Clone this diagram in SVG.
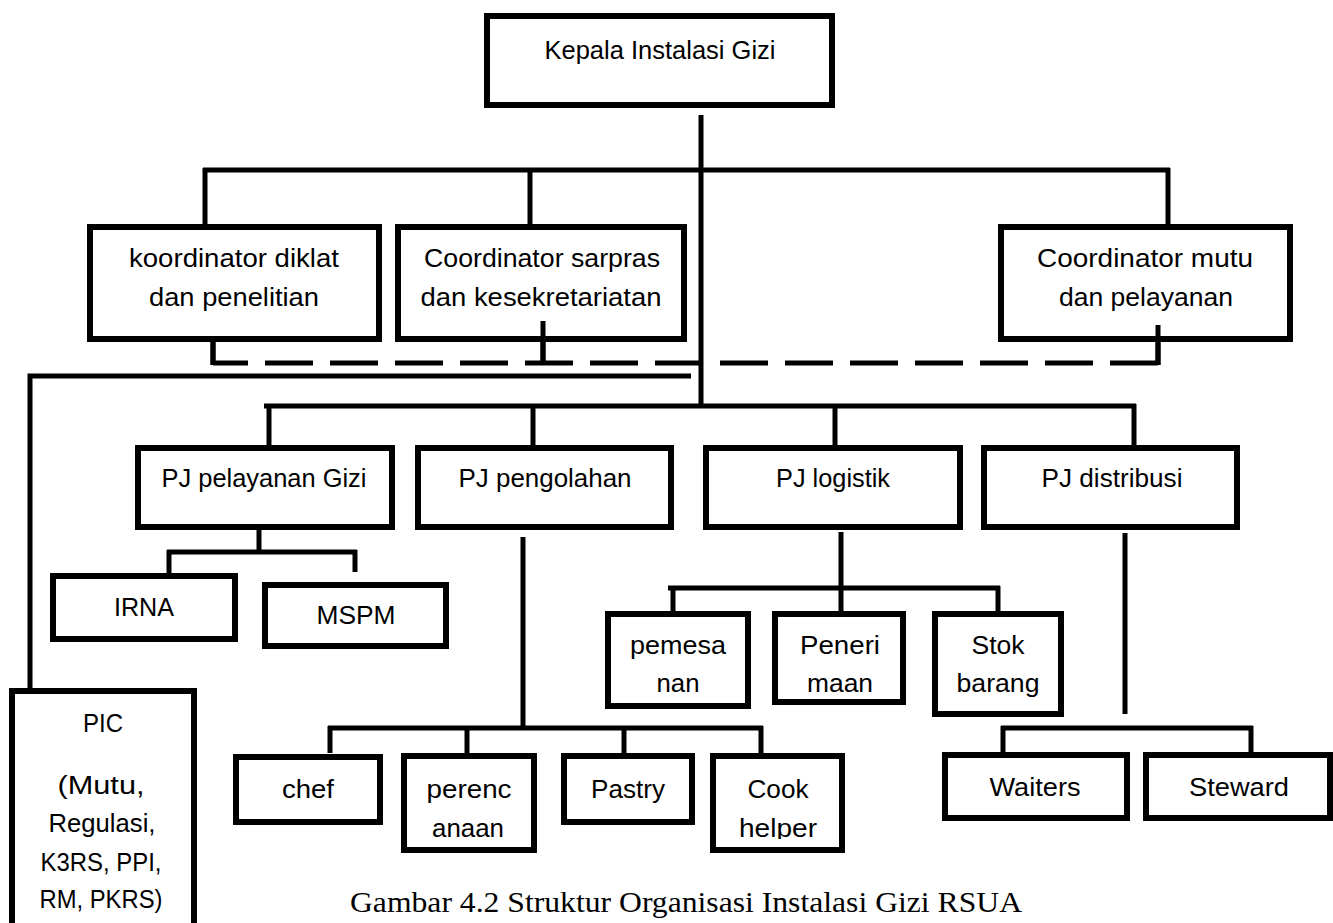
<svg xmlns="http://www.w3.org/2000/svg" width="1333" height="923" viewBox="0 0 1333 923">
  <style>
    .box { fill: #ffffff; stroke: #000000; stroke-width: 6; }
    .ln { fill: none; stroke: #000000; stroke-width: 5; stroke-linecap: butt; }
    .dash { fill: none; stroke: #000000; stroke-width: 5; stroke-dasharray: 48 17; stroke-dashoffset: 13; }
    .t { font-family: "Liberation Sans", Arial, sans-serif; font-size: 25px; fill: #000000; text-anchor: middle; }
    .cap { font-family: "Liberation Serif", "Times New Roman", serif; font-size: 30px; fill: #000000; text-anchor: middle; }
  </style>
  <defs>
    <clipPath id="clip-helper">
      <rect x="712" y="800" width="132" height="39"/>
    </clipPath>
  </defs>
  <rect x="0" y="0" width="1333" height="923" fill="#ffffff"/>

  <!-- connectors -->
  <g id="connectors">
    <!-- head to coordinators -->
    <line class="ln" x1="701" y1="115" x2="701" y2="408"/>
    <line class="ln" x1="203" y1="170" x2="1170" y2="170"/>
    <line class="ln" x1="205" y1="168" x2="205" y2="232"/>
    <line class="ln" x1="530" y1="170" x2="530" y2="242"/>
    <line class="ln" x1="1168" y1="168" x2="1168" y2="247"/>
    <!-- coordination between coordinators (dashed) -->
    <line class="ln" x1="213" y1="340" x2="213" y2="365"/>
    <line class="ln" x1="543" y1="321" x2="543" y2="365"/>
    <line class="ln" x1="1158" y1="325" x2="1158" y2="365"/>
    <line class="dash" x1="213" y1="363" x2="1160" y2="363"/>
    <!-- PIC line -->
    <polyline class="ln" points="691,376 30,376 30,690"/>
    <!-- head to PJ units -->
    <line class="ln" x1="264" y1="406" x2="1136" y2="406"/>
    <line class="ln" x1="269" y1="404" x2="269" y2="449"/>
    <line class="ln" x1="533" y1="406" x2="533" y2="449"/>
    <line class="ln" x1="835" y1="406" x2="835" y2="453"/>
    <line class="ln" x1="1134" y1="404" x2="1134" y2="452"/>
    <!-- PJ pelayanan Gizi -->
    <line class="ln" x1="259" y1="528" x2="259" y2="554"/>
    <line class="ln" x1="167" y1="552" x2="357" y2="552"/>
    <line class="ln" x1="169" y1="550" x2="169" y2="576"/>
    <line class="ln" x1="355" y1="550" x2="355" y2="572"/>
    <!-- PJ pengolahan -->
    <line class="ln" x1="523" y1="537" x2="523" y2="730"/>
    <line class="ln" x1="328" y1="728" x2="763" y2="728"/>
    <line class="ln" x1="330" y1="726" x2="330" y2="753"/>
    <line class="ln" x1="467" y1="728" x2="467" y2="759"/>
    <line class="ln" x1="624" y1="728" x2="624" y2="762"/>
    <line class="ln" x1="761" y1="726" x2="761" y2="766"/>
    <!-- PJ logistik -->
    <line class="ln" x1="841" y1="532" x2="841" y2="614"/>
    <line class="ln" x1="668" y1="588" x2="1000" y2="588"/>
    <line class="ln" x1="673" y1="586" x2="673" y2="616"/>
    <line class="ln" x1="998" y1="586" x2="998" y2="616"/>
    <!-- PJ distribusi -->
    <line class="ln" x1="1125" y1="533" x2="1125" y2="714"/>
    <line class="ln" x1="1001" y1="728" x2="1253" y2="728"/>
    <line class="ln" x1="1003" y1="726" x2="1003" y2="768"/>
    <line class="ln" x1="1251" y1="726" x2="1251" y2="766"/>
  </g>

  <g id="kepala">
    <rect class="box" x="487" y="16" width="345" height="89"/>
    <text class="t" x="660" y="59" textLength="231" lengthAdjust="spacingAndGlyphs">Kepala Instalasi Gizi</text>
  </g>

  <g id="koordinator-diklat">
    <rect class="box" x="90" y="227" width="289" height="112"/>
    <text class="t" x="234" y="267" textLength="210" lengthAdjust="spacingAndGlyphs">koordinator diklat</text>
    <text class="t" x="234" y="306" textLength="170" lengthAdjust="spacingAndGlyphs">dan penelitian</text>
  </g>
  <line class="ln" x1="213" y1="340" x2="213" y2="365"/>

  <g id="coordinator-sarpras">
    <rect class="box" x="398" y="227" width="286" height="112"/>
    <text class="t" x="542" y="267" textLength="236" lengthAdjust="spacingAndGlyphs">Coordinator sarpras</text>
    <text class="t" x="541" y="306" textLength="241" lengthAdjust="spacingAndGlyphs">dan kesekretariatan</text>
  </g>
  <line class="ln" x1="543" y1="321" x2="543" y2="365"/>

  <g id="coordinator-mutu">
    <rect class="box" x="1001" y="227" width="289" height="112"/>
    <text class="t" x="1145" y="267" textLength="216" lengthAdjust="spacingAndGlyphs">Coordinator mutu</text>
    <text class="t" x="1146" y="306" textLength="174" lengthAdjust="spacingAndGlyphs">dan pelayanan</text>
  </g>
  <line class="ln" x1="1158" y1="325" x2="1158" y2="365"/>

  <g id="pj-pelayanan">
    <rect class="box" x="138" y="448" width="254" height="79"/>
    <text class="t" x="264" y="487" textLength="205" lengthAdjust="spacingAndGlyphs">PJ pelayanan Gizi</text>
  </g>
  <g id="pj-pengolahan">
    <rect class="box" x="418" y="448" width="253" height="79"/>
    <text class="t" x="545" y="487" textLength="173" lengthAdjust="spacingAndGlyphs">PJ pengolahan</text>
  </g>
  <g id="pj-logistik">
    <rect class="box" x="706" y="448" width="254" height="79"/>
    <text class="t" x="833" y="487" textLength="114" lengthAdjust="spacingAndGlyphs">PJ logistik</text>
  </g>
  <g id="pj-distribusi">
    <rect class="box" x="984" y="448" width="253" height="79"/>
    <text class="t" x="1112" y="487" textLength="141" lengthAdjust="spacingAndGlyphs">PJ distribusi</text>
  </g>

  <g id="irna">
    <rect class="box" x="53" y="576" width="182" height="63"/>
    <text class="t" x="144" y="616" textLength="60" lengthAdjust="spacingAndGlyphs">IRNA</text>
  </g>
  <g id="mspm">
    <rect class="box" x="265" y="585" width="181" height="61"/>
    <text class="t" x="356" y="624" textLength="79" lengthAdjust="spacingAndGlyphs">MSPM</text>
  </g>

  <g id="pemesanan">
    <rect class="box" x="608" y="614" width="140" height="92"/>
    <text class="t" x="678" y="654" textLength="96" lengthAdjust="spacingAndGlyphs">pemesa</text>
    <text class="t" x="678" y="692" textLength="43" lengthAdjust="spacingAndGlyphs">nan</text>
  </g>
  <g id="penerimaan">
    <rect class="box" x="775" y="614" width="128" height="88"/>
    <text class="t" x="840" y="654" textLength="80" lengthAdjust="spacingAndGlyphs">Peneri</text>
    <text class="t" x="840" y="692" textLength="66" lengthAdjust="spacingAndGlyphs">maan</text>
  </g>
  <g id="stok-barang">
    <rect class="box" x="935" y="614" width="126" height="100"/>
    <text class="t" x="998" y="654" textLength="53" lengthAdjust="spacingAndGlyphs">Stok</text>
    <text class="t" x="998" y="692" textLength="83" lengthAdjust="spacingAndGlyphs">barang</text>
  </g>

  <g id="chef">
    <rect class="box" x="236" y="757" width="144" height="65"/>
    <text class="t" x="308" y="798" textLength="52" lengthAdjust="spacingAndGlyphs">chef</text>
  </g>
  <g id="perencanaan">
    <rect class="box" x="404" y="756" width="130" height="94"/>
    <text class="t" x="469" y="798" textLength="85" lengthAdjust="spacingAndGlyphs">perenc</text>
    <text class="t" x="468" y="837" textLength="72" lengthAdjust="spacingAndGlyphs">anaan</text>
  </g>
  <g id="pastry">
    <rect class="box" x="564" y="756" width="128" height="66"/>
    <text class="t" x="628" y="798" textLength="74" lengthAdjust="spacingAndGlyphs">Pastry</text>
  </g>
  <g id="cook-helper">
    <rect class="box" x="713" y="756" width="129" height="94"/>
    <text class="t" x="778" y="798" textLength="61" lengthAdjust="spacingAndGlyphs">Cook</text>
    <text class="t" x="778" y="837" textLength="78" lengthAdjust="spacingAndGlyphs" clip-path="url(#clip-helper)">helper</text>
  </g>

  <g id="waiters">
    <rect class="box" x="945" y="755" width="182" height="63"/>
    <text class="t" x="1035" y="796" textLength="91" lengthAdjust="spacingAndGlyphs">Waiters</text>
  </g>
  <g id="steward">
    <rect class="box" x="1146" y="755" width="184" height="63"/>
    <text class="t" x="1239" y="796" textLength="100" lengthAdjust="spacingAndGlyphs">Steward</text>
  </g>

  <g id="pic">
    <rect class="box" x="12" y="691" width="182" height="260"/>
    <text class="t" x="103" y="732" textLength="40" lengthAdjust="spacingAndGlyphs">PIC</text>
    <text class="t" x="101" y="794" textLength="87" lengthAdjust="spacingAndGlyphs">(Mutu,</text>
    <text class="t" x="102" y="832" textLength="107" lengthAdjust="spacingAndGlyphs">Regulasi,</text>
    <text class="t" x="101" y="871" textLength="121" lengthAdjust="spacingAndGlyphs">K3RS, PPI,</text>
    <text class="t" x="101" y="908" textLength="123" lengthAdjust="spacingAndGlyphs">RM, PKRS)</text>
  </g>

  <text class="cap" x="686" y="912" textLength="672" lengthAdjust="spacingAndGlyphs">Gambar 4.2 Struktur Organisasi  Instalasi Gizi RSUA</text>
</svg>
